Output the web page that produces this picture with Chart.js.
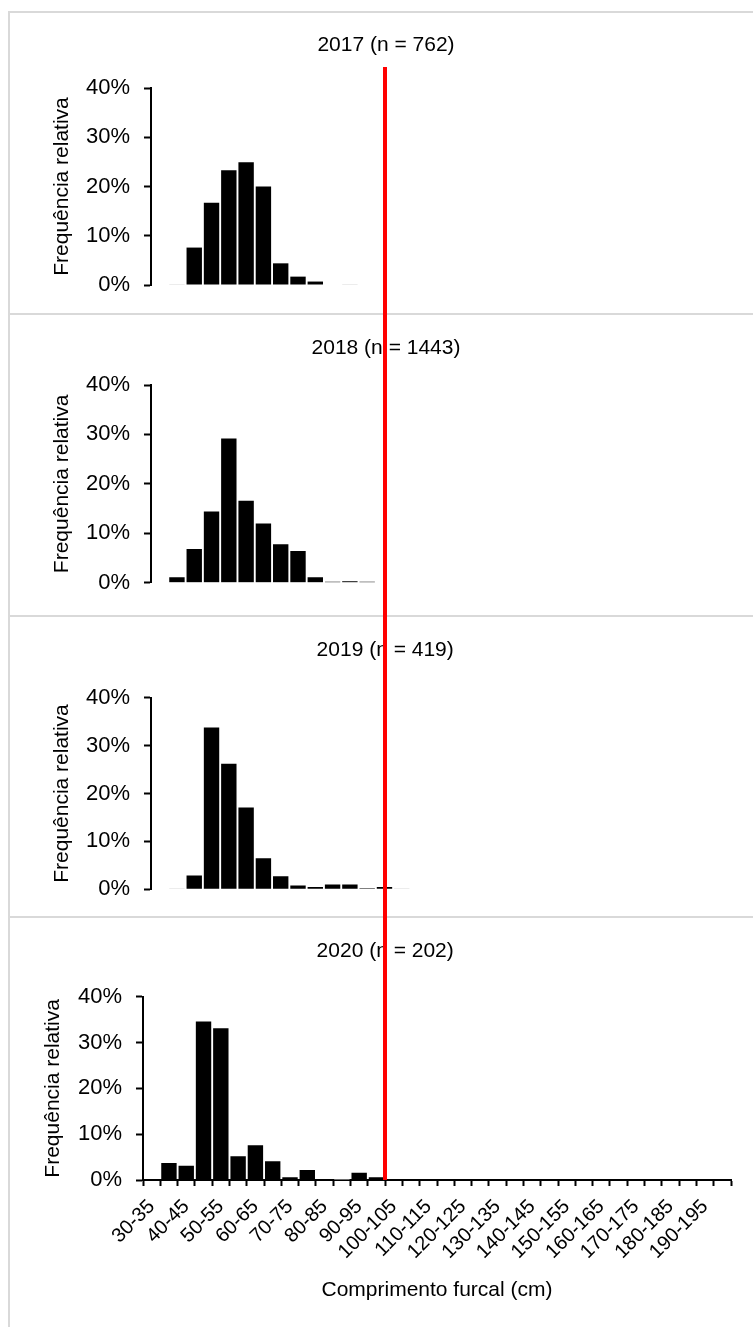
<!DOCTYPE html>
<html>
<head>
<meta charset="utf-8">
<script src="https://cdn.jsdelivr.net/npm/chart.js@4.4.1/dist/chart.umd.min.js"></script>
<style>
  html, body { margin: 0; padding: 0; background: #ffffff; overflow: hidden; }
  #page { position: relative; width: 753px; height: 1327px; overflow: hidden; background: #ffffff; }
  #page canvas { position: absolute; left: 0; }
  .hline { position: absolute; left: 8px; width: 745px; height: 2px; background: #d9d9d9; }
  .vline { position: absolute; left: 8px; top: 11px; width: 2px; height: 1316px; background: #d9d9d9; }
  #refLine { position: absolute; background: #ff0000; z-index: 5; }
</style>
</head>
<body>
<div id="page">
  <div class="vline"></div>
  <div class="hline" style="top:11px"></div>
  <div class="hline" style="top:313px"></div>
  <div class="hline" style="top:615px"></div>
  <div class="hline" style="top:916px"></div>
  <canvas id="c2017" width="753" height="314" style="top:0px"></canvas>
  <canvas id="c2018" width="753" height="302" style="top:314px"></canvas>
  <canvas id="c2019" width="753" height="301" style="top:616px"></canvas>
  <canvas id="c2020" width="753" height="410" style="top:917px"></canvas>
  <div id="refLine"></div>
</div>
<script>
// ---------------- data ----------------
const bins = ['30-35','35-40','40-45','45-50','50-55','55-60','60-65','65-70','70-75','75-80',
              '80-85','85-90','90-95','95-100','100-105','105-110','110-115','115-120','120-125','125-130',
              '130-135','135-140','140-145','145-150','150-155','155-160','160-165','165-170','170-175','175-180',
              '180-185','185-190','190-195','195-200'];
// relative frequency (%) per length class
const pct2017 = [null, 0, 7.6, 16.7, 23.3, 24.9, 20.0, 4.4, 1.7, 0.7, null, 0];
const pct2018 = [null, 1.1, 6.8, 14.4, 29.2, 16.6, 12.0, 7.8, 6.4, 1.1, 0.2, 0.3, 0.2];
const pct2019 = [null, 0, 2.9, 33.8, 26.2, 17.1, 6.5, 2.7, 0.8, 0.5, 1.0, 1.0, 0.2, 0.5, 0];
const pct2020 = [null, 3.7, 3.1, 34.6, 33.1, 5.2, 7.6, 4.1, 0.6, 2.2, null, 0, 1.6, 0.6];
const panelTitles = ['2017 (n = 762)', '2018 (n = 1443)', '2019 (n = 419)', '2020 (n = 202)'];
const yTickValues = [0, 10, 20, 30, 40];
const yAxisTitle = 'Frequência relativa';
const xAxisTitle = 'Comprimento furcal (cm)';
const refLengthCm = 100;

// ---------------- layout / style ----------------
const FONT = "'Liberation Sans', Arial, sans-serif";
const TXT = 21, TICK = 22, XTICK = 20;
const LH = TXT * 1.2;
const W = 753;
const panels = [
  { id: 'c2017', data: pct2017, title: panelTitles[0], top: 0,   h: 314, titleY: 45,    plotTop: 88,    plotBottom: 285,   axisX: 151, plotRight: 739, yTitleX: 62,   titleX: 386,   showX: false },
  { id: 'c2018', data: pct2018, title: panelTitles[1], top: 314, h: 302, titleY: 348,   plotTop: 385,   plotBottom: 582.7, axisX: 151, plotRight: 739, yTitleX: 62,   titleX: 386,   showX: false },
  { id: 'c2019', data: pct2019, title: panelTitles[2], top: 616, h: 301, titleY: 650,   plotTop: 697.7, plotBottom: 889.3, axisX: 151, plotRight: 739, yTitleX: 62,   titleX: 385.2, showX: false },
  { id: 'c2020', data: pct2020, title: panelTitles[3], top: 917, h: 410, titleY: 951.7, plotTop: 996.7, plotBottom: 1180,  axisX: 143, plotRight: 731, yTitleX: 53.3, titleX: 385.2, showX: true, xTitleY: 1290 }
];
const REF_LINE_TOP = 66.7;
const REF_LINE_W = 4.5;

function makeChart(p) {
  const padL = 2 * p.titleX - p.plotRight;
  const padR = W - p.plotRight;
  const yW = p.axisX - padL;
  const yTitlePad = p.yTitleX - padL - LH / 2;
  const tTop = (p.titleY - p.top) - LH / 2;
  const tBottom = (p.plotTop - p.titleY) - LH / 2;
  const plotBottomLocal = p.plotBottom - p.top;
  let xH = 0;
  if (p.showX) xH = (p.xTitleY + LH / 2) - p.plotBottom;
  const padB = p.h - plotBottomLocal - xH;

  const xScale = p.showX ? {
    type: 'category',
    offset: true,
    grid: { display: true, drawOnChartArea: false, drawTicks: true, tickLength: 6, tickColor: '#000', tickWidth: 2, offset: true },
    border: { display: true, color: '#000', width: 2 },
    ticks: {
      autoSkip: false, minRotation: 45, maxRotation: 45, padding: 9,
      color: '#000', font: { family: FONT, size: XTICK },
      callback: (v, i) => (i % 2 === 0 ? bins[i] : '')
    },
    title: { display: true, text: xAxisTitle, color: '#000', font: { family: FONT, size: TXT }, padding: { top: 0, bottom: 0 } },
    afterFit: s => { s.height = xH; }
  } : { type: 'category', offset: true, display: false };

  return new Chart(document.getElementById(p.id), {
    type: 'bar',
    data: {
      labels: bins,
      datasets: [{
        data: p.data,
        backgroundColor: ctx => (ctx.raw === 0 ? '#d9d9d9' : '#000000'),
        borderWidth: 0,
        barPercentage: 0.89,
        categoryPercentage: 1.0,
        minBarLength: 1
      }]
    },
    options: {
      responsive: false,
      devicePixelRatio: 1,
      animation: false,
      events: [],
      layout: { padding: { left: padL, right: padR, top: 0, bottom: padB } },
      plugins: {
        legend: { display: false },
        tooltip: { enabled: false },
        title: {
          display: true, text: p.title, color: '#000',
          font: { family: FONT, size: TXT, weight: 'normal' },
          padding: { top: tTop, bottom: tBottom }
        }
      },
      scales: {
        x: xScale,
        y: {
          min: 0, max: 40,
          afterBuildTicks: s => { s.ticks = yTickValues.map(v => ({ value: v })); },
          grid: { display: true, drawOnChartArea: false, drawTicks: true, tickLength: 7, tickColor: '#000', tickWidth: 2 },
          border: { display: true, color: '#000', width: 2 },
          ticks: { padding: 14, color: '#000', font: { family: FONT, size: TICK }, callback: v => v + '%' },
          title: { display: true, text: yAxisTitle, color: '#000', font: { family: FONT, size: TXT }, padding: { top: yTitlePad, bottom: 0 } },
          afterFit: s => { s.width = yW; }
        }
      }
    }
  });
}

const charts = panels.map(makeChart);

// reference line at 100 cm, positioned with the bottom chart's own scales
(function () {
  const p = panels[3];
  const c = charts[3];
  const xs = c.scales.x, ys = c.scales.y;
  const idx = bins.findIndex(b => parseInt(b, 10) === refLengthCm);
  const x = (xs.getPixelForValue(idx - 1) + xs.getPixelForValue(idx)) / 2;
  const yBottom = p.top + ys.getPixelForValue(0);
  const el = document.getElementById('refLine');
  el.style.left = (x - REF_LINE_W / 2) + 'px';
  el.style.width = REF_LINE_W + 'px';
  el.style.top = REF_LINE_TOP + 'px';
  el.style.height = (yBottom - REF_LINE_TOP) + 'px';
})();
</script>
</body>
</html>
